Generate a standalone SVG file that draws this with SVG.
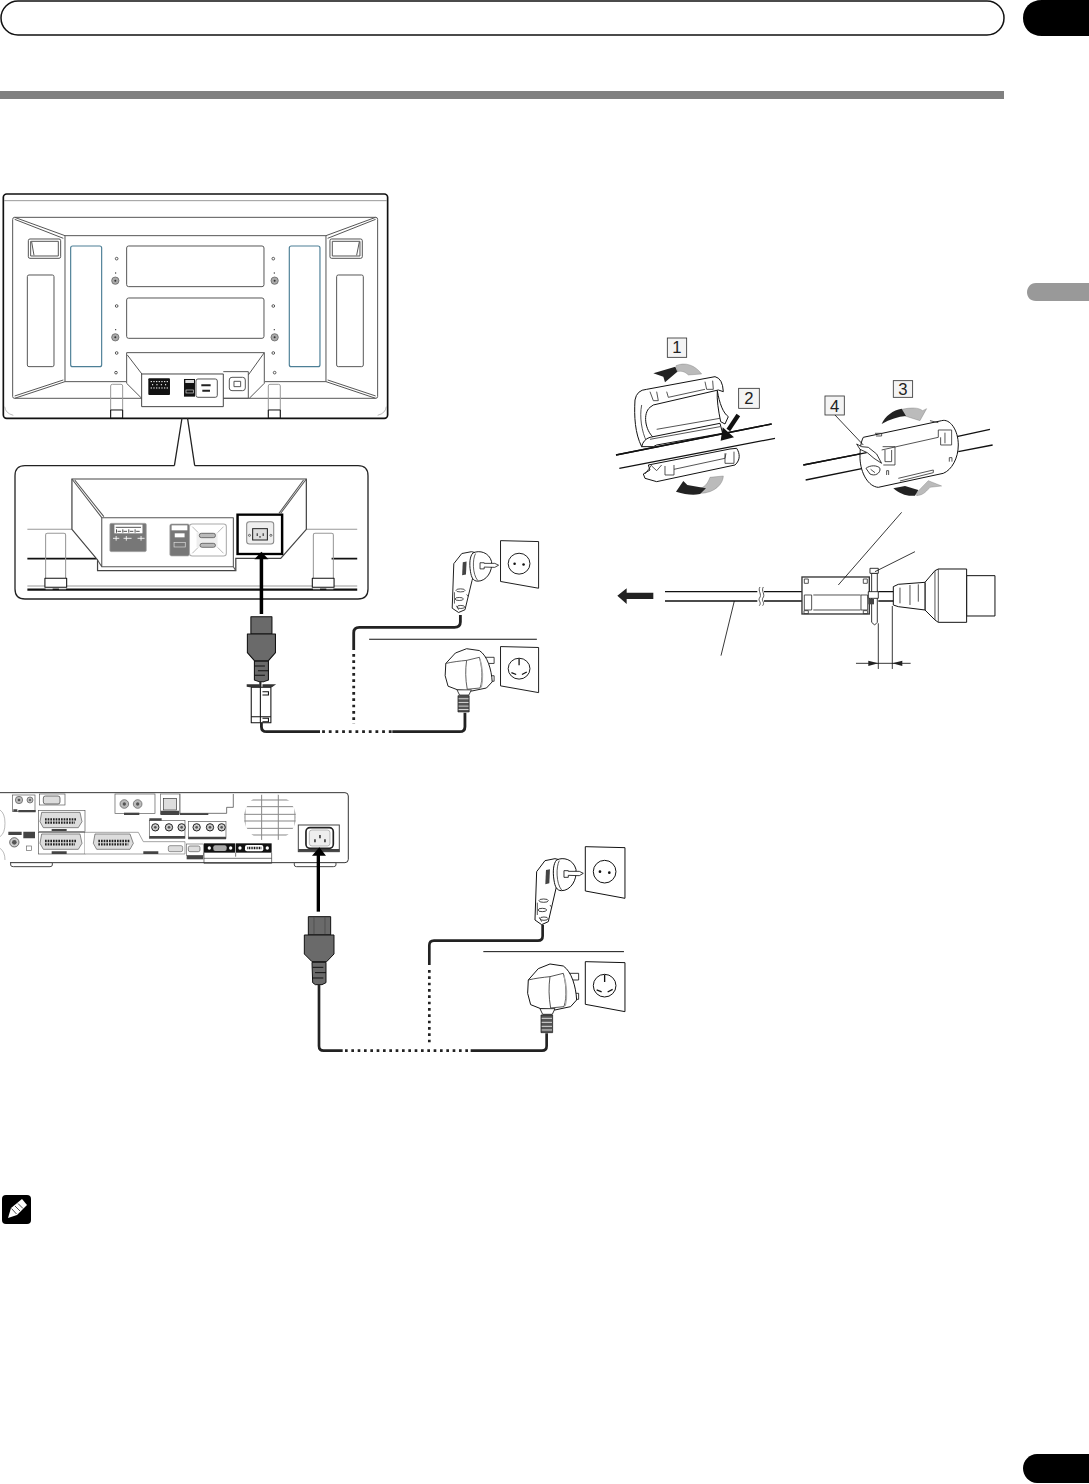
<svg xmlns="http://www.w3.org/2000/svg" width="1089" height="1484" viewBox="0 0 1089 1484">
<style>
.o{fill:none;stroke:#333;stroke-width:2.500;stroke-linejoin:round}
.w{fill:#fff;stroke:#111;stroke-width:3;stroke-linejoin:round}
.g{fill:none;stroke:#999;stroke-width:3}
.l{fill:none;stroke:#555;stroke-width:3;stroke-linejoin:round}
.d{fill:#444;stroke:none}
.k{fill:#111;stroke:none}
.b{fill:none;stroke:#4d7f96;stroke-width:3.5}
.c{fill:none;stroke:#222;stroke-width:8;stroke-linejoin:round}
.dot{fill:none;stroke:#222;stroke-width:8;stroke-dasharray:8 11}
.th{fill:none;stroke:#111;stroke-width:3}
.cb{fill:#f4f4f4;stroke:#333;stroke-width:2.5}
.num{font-family:"Liberation Sans Narrow","Liberation Sans",Arial,sans-serif;font-size:50px;fill:#222;text-anchor:middle}
.lg{fill:#bbb;stroke:#555;stroke-width:2}
.dk{fill:#222;stroke:#111;stroke-width:2}
.gr{fill:#6a6a6a;stroke:#111;stroke-width:3;stroke-linejoin:round}
</style>
<defs>
<clipPath id="grillclip"><ellipse cx="810" cy="112" rx="78" ry="72"/></clipPath>
<g id="euro">
<path class="w" d="M886,50L1005,53V205L886,183Z"/>
<circle cx="944" cy="125" r="34" fill="#fff" stroke="#111" stroke-width="3"/>
<circle cx="930" cy="125" r="4" fill="#111"/><circle cx="958" cy="128" r="4" fill="#111"/>
<path class="w" d="M740,125L765,92L795,86L820,92L797,180L775,275L755,284L735,270Z"/>
<path class="w" d="M800,90C820,80 850,88 858,118C862,150 842,182 815,182C800,182 795,170 792,150C788,125 790,100 800,90Z"/>
<path class="o" d="M808,92C798,110 798,160 815,180"/>
<path class="d" d="M768,120L780,118L778,160L766,163Z"/>
<ellipse cx="761" cy="212" rx="14" ry="5" fill="#fff" stroke="#222" stroke-width="2.500"/>
<ellipse cx="757" cy="240" rx="13" ry="5" fill="#fff" stroke="#222" stroke-width="2.500"/>
<ellipse cx="762" cy="266" rx="12" ry="5" fill="#fff" stroke="#222" stroke-width="2.500"/>
<path class="o" d="M780,225L785,232M742,218V255M748,262L755,275"/>
<path class="w" d="M822,122H835V124L868,124L880,130L868,137L835,136V142H822Z" style="stroke-width:2.500"/>
</g>
<g id="uk">
<path class="w" d="M886,395L1005,398V545L886,523Z"/>
<circle cx="944" cy="467" r="34" fill="#fff" stroke="#111" stroke-width="3"/>
<path d="M944,434V456M920,480L935,486M953,486L968,478" stroke="#111" stroke-width="4" fill="none"/>
<path class="w" d="M838,430H866V450H838ZM845,490H866V508H845Z" style="stroke-width:2.500"/>
<path class="w" d="M715,450L745,416L780,402L820,408C845,425 858,470 860,510L842,530L795,540L752,536L722,524L713,490Z"/>
<path class="o" d="M780,440L820,430C828,460 832,500 822,530L782,534C776,500 776,470 780,440Z"/>
<path d="M822,436C830,465 832,500 826,528" stroke="#aaa" stroke-width="4" fill="none"/>
<path class="o" d="M715,450C735,445 760,442 780,440"/>
<path class="w" d="M750,536L795,536L787,553H758Z" style="stroke-width:2.500"/>
<path class="dk" d="M753,555H788V608H753Z" style="fill:#555"/>
<path d="M755,565H786M755,577H786M755,589H786M755,600H786" stroke="#ddd" stroke-width="3"/>
</g>
<g id="c13">
<rect class="gr" x="55" y="260" width="67" height="55"/>
<path d="M72,262V314M105,262V314" stroke="#444" stroke-width="2"/>
<path class="gr" d="M43,315H132V372L110,395H66L43,372Z"/>
<path class="gr" d="M66,397H108V458L96,464H76L68,458Z"/>
<path d="M68,412H100M75,428H108M68,444H100" stroke="#111" stroke-width="3"/>
</g>
</defs>

<g id="header">
<rect x="1" y="1" width="1003" height="34" rx="17" fill="#fff" stroke="#111" stroke-width="1.5"/>
<path d="M1089,0H1042C1030,0 1023,8 1023,18C1023,28 1030,36 1042,36H1089Z" fill="#000"/>
<rect x="0" y="91" width="1004" height="8" fill="#808080"/>
<path d="M1089,283H1036C1030,283 1027,288 1027,292C1027,297 1030,301 1036,301H1089Z" fill="#999"/>
<path d="M1089,1454H1037C1029,1454 1023,1461 1023,1468C1023,1476 1029,1483 1037,1483H1089Z" fill="#000"/>
</g>

<g id="note-icon">
<rect x="2" y="1195" width="29" height="29" rx="4" fill="#000"/>
<path d="M8,1218L11,1208L22,1199L27,1205L17,1215Z" fill="#fff"/>
<path d="M11.500,1208.500L16.500,1214M15,1206L20,1211M18,1203.500L23,1208.500" stroke="#000" stroke-width=".7"/>
</g>

<g id="panel-rear" transform="translate(0,180) scale(.3333)">
<rect x="10" y="42" width="1153" height="673" rx="10" fill="#fff" stroke="#111" stroke-width="5"/>
<path class="g" d="M12,62H1161"/>
<path class="l" d="M38,118Q38,112 44,112H1127Q1133,112 1133,118V650Q1133,655 1127,655H44Q38,655 38,650Z"/>
<path class="g" d="M14,680Q16,700 40,706M1159,680Q1157,700 1133,706" style="stroke-width:2"/>
<path class="l" d="M195,605V167H978V605M195,605H378M978,605H795"/>
<path class="l" d="M44,112L195,167M44,118L190,175M1127,112L978,167M1127,118L983,175M44,655L195,605M44,648L190,600M1127,655L978,605M1127,648L983,600"/>
<rect class="o" x="85" y="177" width="97" height="58" rx="5"/><rect class="l" x="92" y="184" width="83" height="44" fill="#fff"/>
<path class="l" d="M95,186L102,226"/>
<rect class="o" x="990" y="177" width="97" height="58" rx="5"/><rect class="l" x="997" y="184" width="83" height="44"/>
<path class="l" d="M1078,186L1070,226"/>
<rect class="b" x="212" y="198" width="93" height="362" rx="6"/>
<rect class="b" x="868" y="198" width="92" height="362" rx="6"/>
<rect class="l" x="82" y="285" width="80" height="275" rx="5"/>
<rect class="l" x="1010" y="285" width="80" height="275" rx="5"/>
<rect class="l" x="380" y="198" width="412" height="122" rx="6"/>
<rect class="l" x="380" y="354" width="412" height="121" rx="6"/>
<g fill="#fff" stroke="#555" stroke-width="3">
<circle cx="350" cy="236" r="4"/><circle cx="350" cy="378" r="4"/><circle cx="350" cy="519" r="4"/><circle cx="348" cy="578" r="4"/>
<circle cx="820" cy="236" r="4"/><circle cx="820" cy="378" r="4"/><circle cx="820" cy="519" r="4"/><circle cx="824" cy="578" r="4"/>
</g>
<g fill="#aaa" stroke="#555" stroke-width="2">
<circle cx="346" cy="302" r="11"/><circle cx="346" cy="472" r="11"/><circle cx="824" cy="302" r="11"/><circle cx="824" cy="472" r="11"/>
</g>
<g fill="#333"><circle cx="346" cy="302" r="3"/><circle cx="346" cy="472" r="3"/><circle cx="824" cy="302" r="3"/><circle cx="824" cy="472" r="3"/>
<circle cx="347" cy="279" r="2"/><circle cx="347" cy="449" r="2"/><circle cx="823" cy="279" r="2"/><circle cx="823" cy="449" r="2"/></g>
<path class="l" d="M380,518V610L425,655M380,518H793L745,585M382,525L428,585M793,518V610L748,655" fill="#fff"/>
<rect class="w" x="425" y="582" width="245" height="98" style="stroke:#444"/>
<path class="l" d="M670,575H745V655H670"/>
<rect x="445" y="595" width="65" height="50" rx="3" fill="#111"/>
<path d="M452,605H504M458,612V618M471,612V618M484,612V618M497,612V618M452,624H504" stroke="#fff" stroke-width="3" stroke-dasharray="4 4"/>
<rect x="552" y="597" width="33" height="53" fill="#111"/>
<rect x="556" y="600" width="26" height="9" fill="#ddd"/><rect x="558" y="630" width="22" height="9" fill="none" stroke="#ddd" stroke-width="2"/>
<rect class="o" x="588" y="597" width="64" height="55" rx="6"/>
<path d="M604,616H632M607,632H630" stroke="#222" stroke-width="6"/>
<rect class="l" x="688" y="592" width="48" height="40" rx="8"/>
<rect class="l" x="702" y="604" width="20" height="16"/>
<path class="g" d="M332,710V618Q332,613 337,613H363Q368,613 368,618V710M805,710V618Q805,613 810,613H836Q841,613 841,618V710"/>
<path d="M332,690H368V715H332ZM805,690H841V715H805Z" style="fill:none;stroke:#111;stroke-width:3"/>
</g>

<g id="panel-detail">
<path d="M174.400,465.700H25Q15,465.700 15,475.700V589Q15,599 25,599H358Q368,599 368,589V475.700Q368,465.700 358,465.700H194.700" fill="#fff" stroke="#222" stroke-width="1.300"/>
<path d="M174.400,465.700L182,418M194.700,465.700L187.500,418" fill="none" stroke="#222" stroke-width="1.300"/>
<g transform="translate(0,450) scale(.3509,.3333)">
<path class="g" d="M78,238H205M873,238H1018"/>
<path d="M78,326H275M945,326H1018" stroke="#111" stroke-width="5"/>
<path class="g" d="M78,408H1018"/>
<path d="M78,419H1018" stroke="#111" stroke-width="7"/>
<path d="M205,87H873V238L800,325H672V362H278V330L205,238Z" fill="#fff" stroke="#444" stroke-width="3.500"/>
<path class="l" d="M205,87L290,203H665V350H290V203M873,87L800,190M213,90L296,200M865,90L795,190M278,330L290,350M672,362L665,350"/>
<path class="g" d="M130,385V255Q130,250 135,250H182Q187,250 187,255V385M893,385V255Q893,250 898,250H945Q950,250 950,255V385"/>
<path class="w" d="M128,385H190V412H128ZM890,385H952V412H890Z"/>
<path d="M130,416H150M168,416H188M892,416H912M930,416H950" stroke="#fff" stroke-width="3"/>
<rect x="313" y="220" width="104" height="85" rx="4" fill="#777" stroke="#aaa" stroke-width="2"/>
<rect x="326" y="224" width="80" height="26" fill="#fff"/>
<path d="M330,232H402M335,244H345M352,244H362M370,244H380M388,244H398M332,238V248M350,238V248M367,238V248M385,238V248" stroke="#333" stroke-width="2.500"/>
<path d="M322,265H340M352,265H375M392,265H412M331,258V272M360,258V272M402,258V272" stroke="#fff" stroke-width="2.500"/>
<rect x="484" y="222" width="56" height="96" rx="5" fill="#777" stroke="#aaa" stroke-width="2"/>
<rect x="489" y="226" width="45" height="15" fill="#fff"/><rect x="498" y="250" width="28" height="12" fill="#fff"/><rect x="496" y="277" width="32" height="14" fill="none" stroke="#ddd" stroke-width="2"/>
<rect x="540" y="222" width="105" height="96" rx="8" fill="#fff" stroke="#aaa" stroke-width="3"/>
<path class="g" d="M548,230L565,248M637,230L620,248M548,310L565,292M637,310L620,292" style="stroke-width:2"/>
<rect x="560" y="248" width="60" height="44" fill="#eee"/>
<rect x="568" y="250" width="46" height="13" rx="6" fill="#bbb" stroke="#444" stroke-width="2"/>
<rect x="570" y="280" width="44" height="12" rx="6" fill="#bbb" stroke="#444" stroke-width="2"/>
<rect x="677" y="194" width="127" height="118" fill="#fff" stroke="#000" stroke-width="7"/>
<rect x="703" y="215" width="77" height="67" rx="8" fill="#eee" stroke="#888" stroke-width="3"/>
<rect x="720" y="236" width="42" height="34" fill="#ddd" stroke="#222" stroke-width="3"/>
<path d="M733,250V258M750,250V258M741,258V263" stroke="#222" stroke-width="3"/>
<circle cx="711" cy="256" r="3" fill="none" stroke="#333" stroke-width="2"/><circle cx="772" cy="256" r="3" fill="none" stroke="#333" stroke-width="2"/>
</g>
</g>

<g id="plugs-top" transform="translate(217,525.300) scale(.32,.307)">
<use href="#euro"/><use href="#uk"/>
</g>

<g id="plugs-bottom" transform="translate(290,830) scale(.3333)">
<use href="#euro"/><use href="#uk"/>
</g>

<g id="power-connector-top" transform="translate(0,450) scale(.3509,.3333)">
<rect class="gr" x="715" y="500" width="60" height="52"/>
<path class="gr" d="M705,552H785V608L765,632H725L705,608Z"/>
<path class="gr" d="M725,634H765V690L752,695H738L725,690Z"/>
<path d="M725,648H755M735,662H765M725,676H755" stroke="#111" stroke-width="3"/>
</g>
<g id="ferrite-top" transform="translate(0,450) scale(.3509,.3333)">
<rect class="w" x="716" y="712" width="56" height="106"/>
<path class="th" d="M742,712V818M716,800H772M748,725H765V735H748M748,805H765V815H748"/>
<path d="M703,703H740L740,712H712L703,710ZM748,703H787L775,712H748Z" fill="#333"/>
<path d="M742,695V712" stroke="#222" stroke-width="6"/>
</g>

<g id="panel-receiver" transform="translate(0,780) scale(.3333)">
<path d="M0,38H1035Q1045,38 1045,48V238Q1045,248 1035,248H30" fill="#fff" stroke="#333" stroke-width="3"/>
<path d="M0,90Q15,100 15,130T0,170M0,205Q15,215 15,240" fill="none" stroke="#999" stroke-width="2"/>
<rect class="lg" style="fill:#fff" x="38" y="45" width="67" height="50"/>
<circle cx="57" cy="60" r="11" class="lg"/><circle cx="90" cy="60" r="9" class="lg"/>
<circle cx="57" cy="60" r="4" fill="#555"/><circle cx="90" cy="60" r="3" fill="#555"/>
<path class="d" d="M55,90H107V97H55ZM40,88H52V95H40Z"/>
<rect class="lg" style="fill:#fff" x="118" y="42" width="77" height="33"/>
<rect x="130" y="48" width="50" height="24" rx="6" fill="#ddd" stroke="#333" stroke-width="2"/>
<rect x="115" y="92" width="140" height="63" fill="#fff" stroke="#555" stroke-width="2"/>
<rect x="115" y="158" width="140" height="64" fill="#fff" stroke="#555" stroke-width="2"/>
<path d="M255,157H415L430,185H555V222H255" fill="#fff" stroke="#777" stroke-width="2"/>
<path class="lg" style="fill:#ddd" d="M125,97H240L246,125L235,143H130L120,125Z"/>
<path class="lg" style="fill:#ddd" d="M125,162H240L246,190L235,208H130L120,190Z"/>
<path class="lg" style="fill:#ddd" d="M285,162H390L400,190L390,208H290L280,190Z"/>
<g stroke="#222" stroke-width="7" stroke-dasharray="5 3"><path d="M135,118H230M135,128H225M135,183H230M135,193H225M295,183H390M295,193H385"/></g>
<path class="d" d="M155,147H200V153H155ZM155,214H200V222H155ZM430,214H475V222H430Z"/>
<path class="d" d="M25,155H65V165H25ZM70,155H105V175H70Z"/>
<circle cx="43" cy="187" r="14" fill="#ccc" stroke="#333" stroke-width="2"/><circle cx="43" cy="187" r="7" fill="#555"/>
<rect x="80" y="198" width="15" height="14" fill="#fff" stroke="#666" stroke-width="2"/>
<rect x="505" y="197" width="43" height="18" rx="5" fill="#ddd" stroke="#666" stroke-width="2"/>
<rect class="lg" style="fill:#fff" x="345" y="42" width="120" height="58"/>
<circle cx="373" cy="72" r="13" class="lg"/><circle cx="413" cy="72" r="13" class="lg"/><circle cx="373" cy="72" r="5" fill="#555"/><circle cx="413" cy="72" r="5" fill="#555"/>
<path class="d" d="M372,98H418V105H372Z"/>
<rect x="482" y="42" width="58" height="60" fill="#fff" stroke="#666" stroke-width="2"/>
<rect x="490" y="55" width="40" height="35" fill="#ddd" stroke="#333" stroke-width="2"/>
<path class="d" d="M482,92H537V105H482ZM540,97H625V105H540Z"/>
<path d="M540,42V100H680V82L700,82V42" fill="#fff" stroke="#333" stroke-width="2"/>
<g clip-path="url(#grillclip)" stroke="#888" stroke-width="3" fill="none"><path d="M735,40V185M785,40V185M835,40V185M885,40V185M730,60H890M730,80H890M730,103H890M730,123H890M730,145H890M730,165H890"/></g>
<rect x="448" y="122" width="107" height="53" fill="#fff" stroke="#555" stroke-width="2"/>
<rect x="565" y="125" width="113" height="50" fill="#fff" stroke="#555" stroke-width="2"/>
<path class="d" d="M448,115H485V122H448ZM448,168H555V175H448ZM565,170H678V178H565Z"/>
<g fill="#ccc" stroke="#222" stroke-width="3"><circle cx="466" cy="142" r="11"/><circle cx="507" cy="142" r="11"/><circle cx="545" cy="142" r="11"/><circle cx="590" cy="142" r="11"/><circle cx="630" cy="142" r="11"/><circle cx="665" cy="142" r="11"/></g>
<g fill="#555"><circle cx="466" cy="142" r="4"/><circle cx="507" cy="142" r="4"/><circle cx="545" cy="142" r="4"/><circle cx="590" cy="142" r="4"/><circle cx="630" cy="142" r="4"/><circle cx="665" cy="142" r="4"/></g>
<rect x="560" y="192" width="50" height="34" fill="#fff" stroke="#666" stroke-width="2"/>
<rect x="565" y="198" width="35" height="17" rx="5" fill="#ddd" stroke="#555" stroke-width="2"/>
<path class="d" d="M560,226H610V238H560Z"/>
<rect x="612" y="190" width="93" height="28" fill="#111"/>
<rect x="707" y="190" width="108" height="28" fill="#111"/>
<rect x="640" y="196" width="40" height="17" rx="6" fill="#aaa"/>
<rect x="735" y="195" width="55" height="19" rx="6" fill="#fff"/><path d="M742,204H784" stroke="#111" stroke-width="7" stroke-dasharray="3 2"/>
<circle cx="628" cy="204" r="5" fill="#fff"/><circle cx="692" cy="204" r="5" fill="#fff"/><circle cx="720" cy="204" r="5" fill="#fff"/><circle cx="802" cy="204" r="5" fill="#fff"/>
<path d="M612,218V250H815V218M612,235H815M707,218V230" fill="none" stroke="#333" stroke-width="2"/>
<path d="M32,248H157V255Q157,260 150,260H40Q32,260 32,255ZM883,248H1008V255Q1008,260 1000,260H890Q883,260 883,255Z" fill="#fff" stroke="#444" stroke-width="3"/>
<rect x="895" y="135" width="123" height="80" fill="#fff" stroke="#444" stroke-width="3"/>
<path class="d" d="M895,207H1018V215H895Z"/>
<rect x="918" y="143" width="82" height="62" rx="12" fill="#fff" stroke="#222" stroke-width="5"/>
<rect x="928" y="150" width="62" height="48" rx="8" fill="#eee" stroke="#999" stroke-width="2"/>
<path d="M945,178V187M960,165V175M975,178V187" stroke="#111" stroke-width="4"/>
</g>

<g id="power-connector-bottom" transform="translate(290,830) scale(.3333)"><use href="#c13"/></g>

<g id="connectors">
<g transform="translate(0,450) scale(.3509,.3333)">
<path class="th" d="M1052,568H1530"/>
<path class="c" d="M745,818V830Q745,845 760,845H912"/>
<path class="c" d="M1118,845H1310Q1325,845 1325,830V788"/>
<path class="dot" d="M918,845H1118"/>
<path class="c" d="M1008,600V548Q1008,532 1024,532H1295Q1312,532 1312,516V495"/>
<path class="dot" d="M1008,612V822"/>
<path d="M745,492V325" stroke="#000" stroke-width="10" fill="none"/>
<path d="M745,305L765,328H725Z" fill="#000"/>
</g>
<g transform="translate(290,830) scale(.3333)">
<path class="th" d="M580,365H1002"/>
<path class="c" d="M87,465V648Q87,662 101,662H158"/>
<path class="c" d="M542,662H756Q770,662 770,648V610"/>
<path class="dot" d="M165,662H540"/>
<path class="c" d="M418,405V346Q418,332 432,332H744Q758,332 758,318V284"/>
<path class="dot" d="M418,420V640"/>
<path d="M85,245V75" stroke="#000" stroke-width="10" fill="none"/>
<path d="M88,52L108,77H66Z" fill="#000"/>
</g>
</g>

<g id="ferrite-open" transform="translate(600,350) scale(.3333)">
<rect class="cb" x="202" y="-36" width="58" height="58"/>
<text class="num" x="231" y="10">1</text>
<rect class="cb" x="416" y="115" width="62" height="60"/>
<text class="num" x="447" y="163">2</text>
<path class="th" d="M48,315L515,222M58,355L525,265" style="stroke-width:4"/>
<path d="M228,47C255,35 285,45 305,72L265,75C255,65 245,62 232,65Z" fill="#bbb" stroke="#666" stroke-width="1"/>
<path d="M160,70L226,50L232,65L195,97L190,80Z" fill="#222"/>
<path class="w" d="M105,150Q110,120 140,118L345,80Q368,85 370,125L355,120L160,165L150,172C128,190 135,240 160,262L125,290C105,250 102,200 105,150Z"/>
<path class="o" d="M125,165C118,200 125,245 140,275M150,125L160,152H175L170,125M315,95L320,118H340L338,92M200,125L205,142L315,118"/>
<path class="w" d="M352,122C358,160 370,190 385,200L375,222L362,215C355,180 350,150 352,122Z"/>
<path class="w" d="M125,290Q130,268 150,262L360,220L368,250L170,285L160,290Z"/>
<path class="o" d="M170,238L360,205M150,268L360,230"/>
<path class="th" d="M48,315L515,222" style="stroke-width:4"/>
<path class="w" d="M145,345L390,297L410,295C420,310 422,330 405,345L170,395L135,385L130,372L150,360Z"/>
<path class="o" d="M135,372L155,345M155,348L170,362L185,345M195,348V375H222V345M222,358L375,325L378,310M375,310V340H402V305"/>
<path d="M300,430C345,430 370,400 370,378L330,382C325,395 318,410 300,415Z" fill="#bbb" stroke="#666" stroke-width="1"/>
<path d="M228,425L250,393L262,405L318,415L300,432C275,437 255,432 228,425Z" fill="#222"/>
<path d="M415,195L385,240" stroke="#111" stroke-width="13"/>
<path d="M362,272L368,232L402,262Z" fill="#111"/>
</g>

<g id="ferrite-closed" transform="translate(600,350) scale(.3333)">
<rect class="cb" x="880" y="92" width="58" height="50"/>
<text class="num" x="909" y="134">3</text>
<rect class="cb" x="675" y="138" width="58" height="57"/>
<text class="num" x="704" y="186">4</text>
<path class="th" d="M610,345L815,305M617,390L815,350M1060,262L1170,238M1075,305L1178,285" style="stroke-width:4"/>
<path d="M905,178C935,172 955,172 968,182L980,176L960,212L915,198Z" fill="#bbb" stroke="#666" stroke-width="1"/>
<path d="M845,222C855,198 880,180 905,176L918,198C895,200 870,208 845,222Z" fill="#222"/>
<path class="w" d="M790,262L1025,212C1050,205 1075,240 1075,285C1075,325 1055,360 1030,370L835,412C805,410 782,370 780,325C780,295 783,275 790,262Z"/>
<path class="o" d="M845,300L1015,262V240H1055V285H1022V262M848,290H885V345H850M855,300V335H875V300M1035,248V280M860,375V362H866V375M1048,335V323H1056V335M895,385L1000,360V368L900,393M990,212L1015,218M825,250H845V258H828"/>
<path class="th" d="M610,345L800,308" style="stroke-width:4"/>
<path class="th" d="M705,195L790,285" style="stroke-width:2.500"/>
<path class="w" d="M770,282L785,290L805,292L830,312L845,340L822,325L802,308L780,298Z" style="stroke-width:2.500"/>
<path class="w" d="M798,355C810,345 832,345 840,355C842,370 825,380 810,372Z" style="stroke-width:2.500"/>
<path class="o" d="M812,358L825,368"/>
<path d="M950,428L985,392L1025,408L990,412C975,430 965,436 950,437Z" fill="#bbb" stroke="#666" stroke-width="1"/>
<path d="M880,415L915,408L955,420L945,437C920,440 900,432 880,415Z" fill="#222"/>
</g>

<g id="ferrite-side" transform="translate(600,505) scale(.3333)">
<path d="M80,250L52,272L80,297V282H160V263H80Z" fill="#222"/>
<path class="th" d="M195,260H472M195,288H472M492,260H606M492,288H606" style="stroke-width:4"/>
<path class="o" d="M480,246C472,258 488,268 478,280C474,288 486,292 478,302M490,246C482,258 498,268 488,280C484,288 496,292 488,302"/>
<rect x="606" y="216" width="202" height="111" fill="#fff" stroke="#333" stroke-width="4"/>
<path class="o" d="M640,270H782M640,315H782"/>
<rect class="o" x="613" y="222" width="12" height="13"/><rect class="o" x="790" y="222" width="12" height="13"/>
<rect class="o" x="613" y="270" width="22" height="45"/><rect class="o" x="783" y="270" width="20" height="45"/>
<rect class="o" x="612" y="317" width="13" height="9"/><rect class="o" x="790" y="317" width="13" height="9"/>
<path class="w" d="M815,205H832V352L824,360L815,352Z" style="stroke-width:2.500"/>
<path class="w" d="M810,190H835V205H810Z" style="stroke-width:2.500"/>
<path class="w" d="M805,260H835V280H805Z" style="stroke-width:2.500"/>
<path class="d" d="M805,282H822V298H805Z"/>
<path class="th" d="M835,260H882M835,288H882" style="stroke-width:4"/>
<path class="w" d="M1100,212H1185V333H1100Z"/>
<path class="w" d="M975,232L1005,197L1015,192H1100V352H1015L1005,345L975,315Z"/>
<path class="o" d="M1005,197V345M1015,192V352"/>
<path class="w" d="M880,245L895,238L975,232V315L895,305L880,300Z"/>
<path class="o" d="M900,248V295M930,240V300M955,238V290"/>
<path class="th" d="M905,22L715,240M945,140L825,200M403,288L363,452" style="stroke-width:2.500"/>
<path class="th" d="M835,355V492M877,303V492M768,475H932" style="stroke-width:2.500"/>
<path d="M835,475L805,467V483ZM877,475L907,467V483Z" fill="#222"/>
</g>
</svg>
